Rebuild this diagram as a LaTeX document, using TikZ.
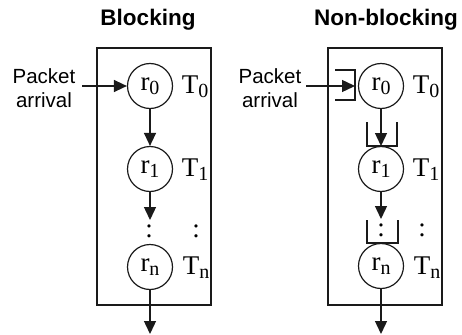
\documentclass[tikz,border=0pt]{standalone}
\usepackage{fontspec}
\usetikzlibrary{positioning, arrows.meta}
\newfontfamily\titlefont{Liberation Sans}
\newfontfamily\notefont{Liberation Sans}
\newfontfamily\labelfont{Liberation Serif}
\definecolor{lnblack}{HTML}{1A1A1A}
\newcommand{\sublbl}[2]{#1\raisebox{-0.3ex}{\fontsize{20}{20}\selectfont #2}}

\begin{document}
\begin{tikzpicture}[x=1pt, y=-1pt, line join=miter,
    panel/.style={draw=lnblack, line width=1.6pt},
    stage/.style={draw=lnblack, circle, line width=1.2pt, minimum size=45pt,
                  inner sep=0pt, font=\labelfont\fontsize{27}{27}\selectfont},
    tlbl/.style={inner sep=0pt, font=\labelfont\fontsize{27}{27}\selectfont},
    flow/.style={lnblack, line width=1.4pt, -{Triangle[length=13pt, width=12pt]}},
    queue/.style={draw=lnblack, line width=1.4pt},
    title/.style={font=\titlefont\bfseries\fontsize{22.5}{22.5}\selectfont},
    note/.style={align=center, inner sep=0pt,
                 font=\notefont\fontsize{20.5}{24}\selectfont}]
  \useasboundingbox (0,0) rectangle (462,334);

  % blocking
  \node[title] (tb) at (148,20) {Blocking};
  \draw[panel] (97,48) rectangle (211,305);
  \node[note] (pb) at (44,88) {Packet\\arrival};
  \coordinate (inb) at (82,86);
  \node[stage] (b0) at (150,86)  {\sublbl{r}{0}};
  \node[stage] (b1) at (150,169) {\sublbl{r}{1}};
  \node[stage] (bn) at (150,267) {\sublbl{r}{n}};
  \node[tlbl] (bt0) at (195,87)  {\sublbl{T}{0}};
  \node[tlbl] (bt1) at (195,170) {\sublbl{T}{1}};
  \node[tlbl] (btn) at (196,268) {\sublbl{T}{n}};
  \node[tlbl] (bd1) at (149,231) {:};
  \node[tlbl] (bd2) at (196,231) {:};
  \coordinate (bq) at (150,220);
  \coordinate (bout) at (150,334);
  \draw[flow] (inb) -- (b0);
  \draw[flow] (b0) -- (b1);
  \draw[flow] (b1) -- (bq);
  \draw[flow] (bn) -- (bout);

  % non-blocking
  \node[title] (tn) at (386,20) {Non-blocking};
  \draw[panel] (328,48) rectangle (442,305);
  \node[note] (pn) at (270,88) {Packet\\arrival};
  \coordinate (inn) at (306,86);
  \node[stage] (n0) at (381,86)  {\sublbl{r}{0}};
  \node[stage] (n1) at (381,169) {\sublbl{r}{1}};
  \node[stage] (nn) at (381,266) {\sublbl{r}{n}};
  \node[tlbl] (nt0) at (426,87)  {\sublbl{T}{0}};
  \node[tlbl] (nt1) at (426,170) {\sublbl{T}{1}};
  \node[tlbl] (ntn) at (427,268) {\sublbl{T}{n}};
  \node[tlbl] (nd1) at (381,230) {:};
  \node[tlbl] (nd2) at (422,230) {:};
  \draw[queue] (335,70) -- (355,70) -- (355,100) -- (335,100);
  \draw[queue] (367,122) -- (367,146) -- (397,146) -- (397,122);
  \draw[queue] (367,220) -- (367,243) -- (398,243) -- (398,220);
  \coordinate (nq0) at (355,86);
  \coordinate (nq1) at (381,146);
  \coordinate (nq2) at (381,219);
  \coordinate (nout) at (381,334);
  \draw[flow] (inn) -- (nq0);
  \draw[flow] (n0) -- (nq1);
  \draw[flow] (n1) -- (nq2);
  \draw[flow] (nn) -- (nout);
\end{tikzpicture}
\end{document}
